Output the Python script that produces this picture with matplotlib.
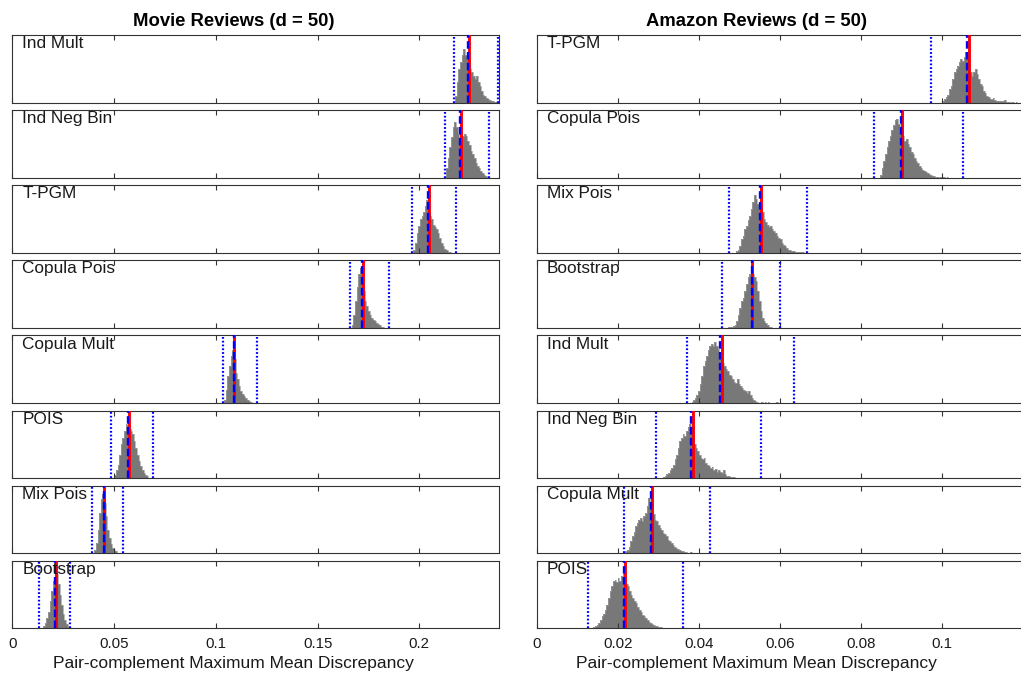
import numpy as np
import matplotlib
matplotlib.use("Agg")
import matplotlib.pyplot as plt

plt.rcParams['font.family'] = ['Liberation Sans', 'DejaVu Sans']

# ---------------- data ----------------
movie_labels = ['Ind Mult', 'Ind Neg Bin', 'T-PGM', 'Copula Pois',
                'Copula Mult', 'POIS', 'Mix Pois', 'Bootstrap']
movie_mean = [0.2244, 0.2203, 0.2047, 0.1721, 0.1091, 0.0572, 0.0452, 0.0213]
movie_median = [0.2240, 0.2199, 0.2044, 0.1718, 0.1088, 0.0569, 0.0449, 0.0212]
movie_lo = [0.2170, 0.2126, 0.1963, 0.1657, 0.1034, 0.0484, 0.0392, 0.0133]
movie_hi = [0.2388, 0.2343, 0.2181, 0.1850, 0.1204, 0.0693, 0.0546, 0.0284]
movie_start = [0.2176, 0.2132, 0.1971, 0.1668, 0.1041, 0.0501, 0.0403, 0.0152]
movie_bin_w = 0.0008

m_indmult = [10, 30, 50, 60, 70, 80, 70, 65, 55, 50, 45, 40, 35, 40, 30, 25, 18, 12, 10, 7, 5, 4, 3, 2, 1, 1]
m_indnegbin = [15, 30, 45, 60, 75, 82, 75, 65, 55, 55, 62, 65, 62, 55, 48, 40, 35, 30, 22, 18, 14, 10, 7, 5, 3, 1]
m_tpgm = [5, 15, 30, 40, 50, 55, 60, 70, 78, 70, 55, 50, 42, 38, 35, 30, 22, 15, 10, 6, 4, 2, 1]
m_copulapois = [5, 20, 40, 60, 80, 88, 80, 55, 40, 32, 25, 20, 15, 12, 10, 8, 6, 4, 2, 1]
m_copulamult = [5, 20, 40, 55, 70, 78, 65, 45, 35, 25, 18, 14, 10, 8, 5, 3, 2, 1, 1]
m_pois = [5, 12, 20, 35, 50, 60, 70, 80, 78, 72, 70, 65, 55, 45, 35, 25, 18, 12, 8, 5, 3, 1]
m_mixpois = [5, 15, 35, 60, 80, 88, 75, 55, 35, 22, 14, 8, 5, 3, 1]
m_bootstrap = [3, 8, 15, 25, 40, 55, 70, 85, 80, 65, 50, 35, 22, 12, 6, 2]

amazon_labels = ['T-PGM', 'Copula Pois', 'Mix Pois', 'Bootstrap',
                 'Ind Mult', 'Ind Neg Bin', 'Copula Mult', 'POIS']
amazon_mean = [0.1065, 0.0902, 0.0554, 0.0532, 0.0457, 0.0386, 0.0285, 0.0219]
amazon_median = [0.1062, 0.0898, 0.0550, 0.0532, 0.0451, 0.0380, 0.0281, 0.0215]
amazon_lo = [0.0972, 0.0833, 0.0475, 0.0456, 0.0370, 0.0295, 0.0216, 0.0127]
amazon_hi = [None, 0.1052, 0.0667, 0.0599, 0.0634, 0.0554, 0.0428, 0.0361]
amazon_start = [0.1001, 0.0847, 0.0492, 0.0472, 0.0382, 0.0312, 0.0219, 0.0136]
amazon_bin_w = 0.0004

a_tpgm = [2, 5, 8, 12, 20, 25, 35, 45, 50, 55, 60, 65, 62, 68, 75, 70, 55, 45, 40, 45, 50, 42, 35,
          28, 25, 18, 14, 10, 8, 6, 5, 7, 4, 3, 3, 2, 3, 2, 4, 1, 1, 1, 0, 1, 0, 1]
a_copulapois = [5, 15, 25, 35, 45, 55, 62, 70, 78, 85, 87, 80, 75, 70, 62, 55, 58, 50, 45, 38, 35,
                30, 25, 22, 18, 15, 12, 10, 9, 7, 6, 5, 3, 3, 2, 1, 0, 1, 0, 1, 0, 1]
a_mixpois = [3, 5, 10, 20, 25, 35, 40, 48, 55, 65, 75, 85, 80, 72, 65, 70, 60, 50, 45, 42, 38,
             40, 35, 32, 30, 25, 22, 20, 15, 12, 10, 7, 5, 4, 3, 3, 2, 2, 1, 1, 1, 1]
a_bootstrap = [1, 2, 2, 3, 5, 10, 20, 30, 40, 45, 55, 65, 75, 80, 85, 80, 75, 70, 55, 40, 25,
               15, 10, 8, 4, 2, 1]
a_indmult = [2, 5, 8, 12, 18, 28, 40, 55, 62, 70, 78, 85, 88, 85, 90, 85, 80, 75, 70, 60, 55,
             50, 48, 42, 40, 35, 32, 30, 35, 28, 25, 22, 20, 18, 15, 18, 12, 8, 5, 3, 2, 1, 1,
             2, 1, 2, 1, 2, 1, 1, 0, 1, 2]
a_indnegbin = [2, 4, 6, 8, 12, 15, 20, 28, 35, 45, 55, 60, 65, 62, 70, 75, 80, 75, 60, 50, 45,
               40, 35, 30, 28, 30, 22, 20, 18, 15, 16, 12, 14, 10, 12, 10, 8, 12, 6, 4, 3, 2,
               2, 2, 1, 1, 1, 1, 1, 0, 0, 1, 0, 1]
a_copulamult = [3, 5, 10, 18, 25, 32, 40, 45, 50, 52, 48, 55, 60, 70, 82, 75, 65, 58, 50, 48, 42,
                38, 35, 30, 28, 25, 20, 18, 15, 12, 10, 8, 6, 5, 4, 3, 2, 2, 1, 1, 2, 1, 1, 0,
                1, 0, 1]
a_pois = [1, 2, 3, 5, 8, 12, 18, 22, 28, 35, 45, 55, 62, 70, 72, 68, 75, 70, 78, 80, 70, 65, 62,
          55, 50, 45, 40, 38, 32, 28, 25, 20, 18, 15, 12, 10, 8, 7, 5, 4, 3, 2, 2, 1, 1, 1, 0,
          0, 1, 0, 1]

movie_counts = [m_indmult, m_indnegbin, m_tpgm, m_copulapois,
                m_copulamult, m_pois, m_mixpois, m_bootstrap]
amazon_counts = [a_tpgm, a_copulapois, a_mixpois, a_bootstrap,
                 a_indmult, a_indnegbin, a_copulamult, a_pois]

movie_xlim = (0, 0.2389)
amazon_xlim = (0, 0.1205)
movie_ticks = [0, 0.05, 0.1, 0.15, 0.2]
movie_ticklabels = ['0', '0.05', '0.1', '0.15', '0.2']
amazon_ticks = [0, 0.02, 0.04, 0.06, 0.08, 0.1]
amazon_ticklabels = ['0', '0.02', '0.04', '0.06', '0.08', '0.1']

# ---------------- layout ----------------
W, H = 1021, 677
fig = plt.figure(figsize=(W / 100, H / 100), dpi=100)

col_left_px = [12.3, 536.7]
col_width_px = [486.2, 488.6]
row_top0 = 35.0
row_pitch = 75.1
row_h = 67.8
spine_c = '0.2'
text_c = '0.1'


def draw_column(ci, labels, means, medians, los, his, starts, bin_w, counts,
                xlim, ticks, ticklabels):
    for ri in range(8):
        top = row_top0 + ri * row_pitch
        ax = fig.add_axes([col_left_px[ci] / W, 1 - (top + row_h) / H,
                           col_width_px[ci] / W, row_h / H])
        c = counts[ri]
        edges = starts[ri] + bin_w * np.arange(len(c) + 1)
        ax.stairs(c, edges, fill=True, color='0.47', zorder=1)
        ax.stairs(c, edges, fill=False, color='0.62', lw=0.5, zorder=1.1)
        ax.axvline(los[ri], color=(0, 0, 1), lw=1.6, ls=(0, (0.8, 0.9)), zorder=3)
        if his[ri] is not None:
            ax.axvline(his[ri], color=(0, 0, 1), lw=1.6, ls=(0, (0.8, 0.9)), zorder=3)
        ax.axvline(means[ri], color=(1, 0, 0), lw=2.1, zorder=4)
        ax.axvline(medians[ri], color=(0, 0, 1), lw=1.7, ls=(0, (3.2, 1.4)), zorder=5)
        ax.set_xlim(*xlim)
        ax.set_ylim(0, 100)
        ax.set_yticks([])
        ax.set_xticks(ticks)
        ax.tick_params(axis='x', direction='in', top=True, bottom=True,
                       length=3.6, width=0.8, color=spine_c, pad=6,
                       labelsize=10.8, labelcolor=text_c,
                       labelbottom=(ri == 7))
        if ri == 7:
            ax.set_xticklabels(ticklabels)
        for s in ax.spines.values():
            s.set_color(spine_c)
            s.set_linewidth(0.8)
        ax.set_facecolor('white')
        fig.text((col_left_px[ci] + 10.0) / W, 1 - (top + 13.2) / H, labels[ri],
                 fontsize=12.4, color=text_c, ha='left', va='baseline', zorder=10)


draw_column(0, movie_labels, movie_mean, movie_median, movie_lo, movie_hi,
            movie_start, movie_bin_w, movie_counts, movie_xlim, movie_ticks, movie_ticklabels)
draw_column(1, amazon_labels, amazon_mean, amazon_median, amazon_lo, amazon_hi,
            amazon_start, amazon_bin_w, amazon_counts, amazon_xlim, amazon_ticks, amazon_ticklabels)

fig.text(233.5 / W, 1 - 26.0 / H, 'Movie Reviews (d = 50)', fontsize=13.3,
         fontweight='bold', ha='center', va='baseline', color='black')
fig.text(756.7 / W, 1 - 26.0 / H, 'Amazon Reviews (d = 50)', fontsize=13.3,
         fontweight='bold', ha='center', va='baseline', color='black')
fig.text(233.0 / W, 1 - 668.3 / H, 'Pair-complement Maximum Mean Discrepancy',
         fontsize=12.5, ha='center', va='baseline', color=text_c)
fig.text(756.7 / W, 1 - 668.3 / H, 'Pair-complement Maximum Mean Discrepancy',
         fontsize=12.5, ha='center', va='baseline', color=text_c)

fig.savefig('out.png', dpi=100, facecolor='white')
